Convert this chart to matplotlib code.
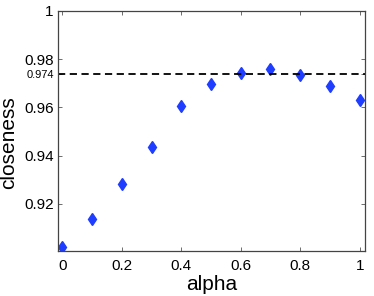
import numpy as np
import matplotlib
matplotlib.use("Agg")
import matplotlib.pyplot as plt

plt.rcParams['font.family'] = ['Liberation Sans', 'DejaVu Sans']

alpha = [0.0, 0.1, 0.2, 0.3, 0.4, 0.5, 0.6, 0.7, 0.8, 0.9, 1.0]
closeness = [0.9023, 0.9137, 0.9284, 0.9435, 0.9607, 0.9697, 0.9744, 0.9761, 0.9735, 0.9689, 0.9630]
baseline = 0.974
xticks = [0, 0.2, 0.4, 0.6, 0.8, 1]
xticklabels = ['0', '0.2', '0.4', '0.6', '0.8', '1']
yticks = [0.92, 0.94, 0.96, 0.98, 1]
yticklabels = ['0.92', '0.94', '0.96', '0.98', '1']

fig = plt.figure(figsize=(3.74, 2.96), dpi=100)
ax = fig.add_axes([58/374, 1 - 251/296, (365-58)/374, (251-11)/296])

ax.plot(alpha, closeness, linestyle='none', marker='d', markersize=6.5,
        color='#1f3dff', markeredgecolor='#1f3dff')
ax.axhline(baseline, color='black', linestyle=(0, (4, 2.5)), linewidth=1.3)

ax.set_xlim(-0.015, 1.018)
ax.set_ylim(0.9005, 1.0)
ax.set_xticks(xticks)
ax.set_xticklabels(xticklabels)
ax.set_yticks(yticks + [baseline])
ax.set_yticklabels(yticklabels + ['0.974'])
for lab in ax.get_yticklabels():
    if lab.get_text() == '0.974':
        lab.set_fontsize(8)
    else:
        lab.set_fontsize(11)
for lab in ax.get_xticklabels():
    lab.set_fontsize(11)

ax.tick_params(direction='in', top=True, right=True, length=3, width=0.6,
               color='#555555')
ax.tick_params(axis='x', pad=6)
ax.tick_params(axis='y', pad=3)
for s in ax.spines.values():
    s.set_linewidth(0.9)
    s.set_color('#444444')

ax.set_xlabel('alpha', fontsize=15, labelpad=1)
ax.set_ylabel('closeness', fontsize=15)
ax.yaxis.set_label_coords(-0.13, 0.45)

fig.savefig('out.png', dpi=100)
